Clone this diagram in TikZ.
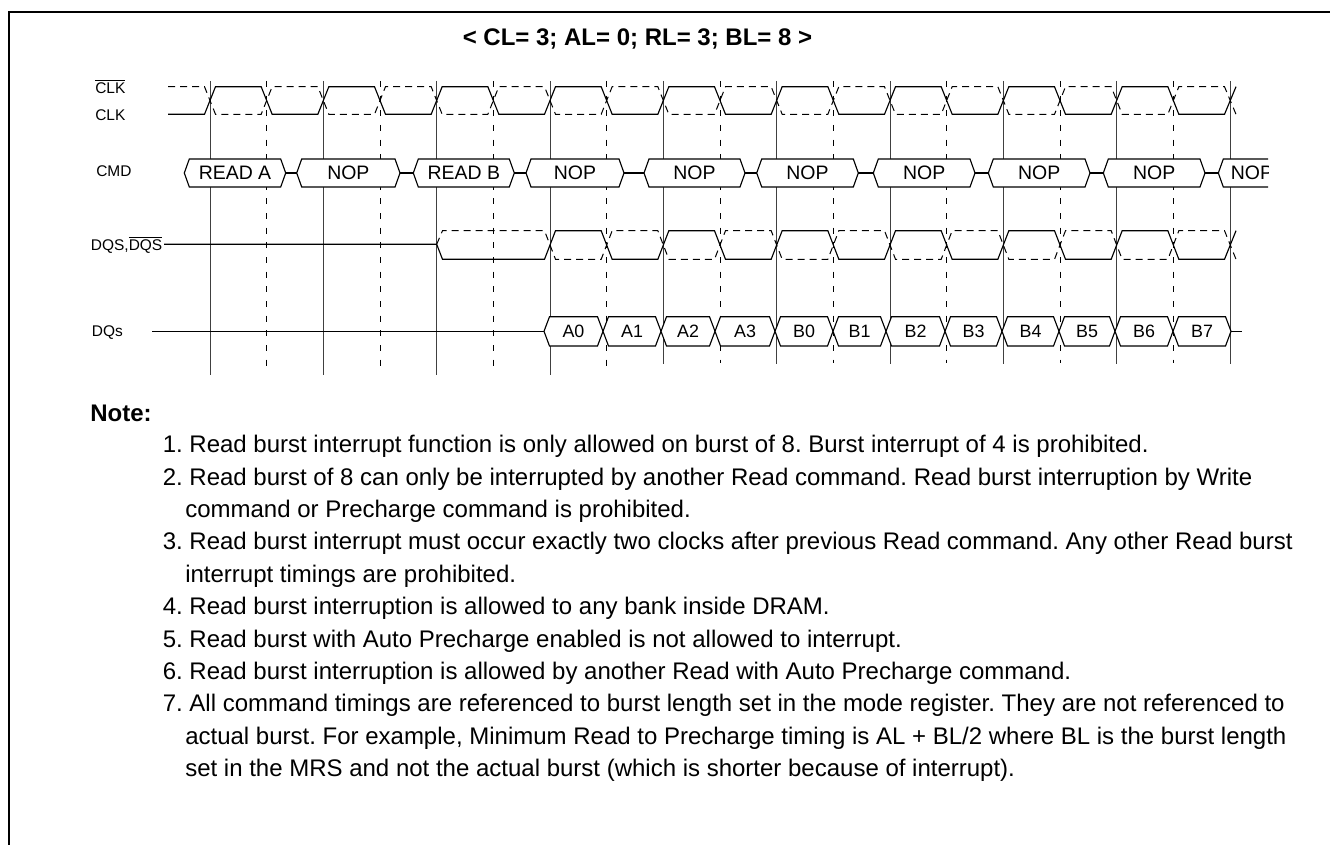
\documentclass[tikz,border=0pt]{standalone}
\usepackage{fontspec}
\setmainfont{Liberation Sans}
\frenchspacing
\tikzset{
  wave/.style={line width=0.85pt, black},
  wavedash/.style={line width=0.75pt, black, dash pattern=on 5.25pt off 3.75pt},
  gridsolid/.style={line width=0.65pt, black!75},
  griddash/.style={line width=0.65pt, black, dash pattern=on 4.5pt off 6.5pt},
  lab/.style={font=\fontsize{11.6}{13}\selectfont, anchor=base west, inner sep=0pt},
  cmdtxt/.style={font=\fontsize{14.6}{16}\selectfont, anchor=base, inner sep=0pt},
  dattxt/.style={font=\fontsize{13.4}{15}\selectfont, anchor=base, inner sep=0pt},
  notetxt/.style={font=\fontsize{18}{22}\selectfont, anchor=base west, inner sep=0pt},
  titletxt/.style={font=\fontsize{18}{22}\selectfont\bfseries, anchor=base, inner sep=0pt},
}
\newcommand\CmdHex[4]{%
  \coordinate (#4-l) at (#1,173);
  \coordinate (#4-r) at (#2,173);
  \draw[wave,fill=white] (#4-l) -- (#1+5,159) -- (#2-5,159) -- (#4-r) -- (#2-5,187) -- (#1+5,187) -- cycle;
  \node[cmdtxt] (#4) at ({(#1+#2)/2},180) {#3};}
\newcommand\DatHex[4]{%
  \coordinate (#4-l) at (#1,331.3);
  \coordinate (#4-r) at (#2,331.3);
  \draw[wave,fill=white] (#4-l) -- (#1+5.5,316.7) -- (#2-5.5,316.7) -- (#4-r) -- (#2-5.5,346) -- (#1+5.5,346) -- cycle;
  \node[dattxt] (#4) at ({(#1+#2)/2},337.8) {#3};}
\begin{document}
\begin{tikzpicture}[x=0.75pt,y=-0.75pt]
\useasboundingbox (0,0) rectangle (1330,845);
% frame
\draw[line width=1pt] (9,850) -- (9,12) -- (1340,12);
% title
\node[titletxt] (title) at (637.5,45.5) {< CL= 3; AL= 0; RL= 3; BL= 8 >};
% grid lines
\foreach \k in {0,...,3}{
  \draw[gridsolid] ({210+113.333*\k},81) -- ({210+113.333*\k},375);
  \draw[griddash] ({266.667+113.333*\k},81) -- ({266.667+113.333*\k},374);
}
\foreach \k in {4,...,9}{
  \draw[gridsolid] ({210+113.333*\k},81) -- ({210+113.333*\k},364);
}
\foreach \k in {4,...,8}{
  \draw[griddash] ({266.667+113.333*\k},81) -- ({266.667+113.333*\k},363);
}
% signal labels
\node[lab] (lclkb) at (95,93.3) {$\overline{\hbox{CLK}}$};
\node[lab] (lclk) at (95,120.7) {CLK};
\node[lab] (lcmd) at (96,176.7) {CMD};
\node[lab] (ldqs) at (90.7,250) {DQS,$\overline{\hbox{DQS}}$};
\node[lab] (ldq) at (91.7,336.7) {DQs};
% clock
\draw[wave] (168,114.3) \foreach \k in {0,...,8}{ -- ({210+113.333*\k-5.5},114.3) -- ({210+113.333*\k+5.5},86.7) -- ({266.667+113.333*\k-5.5},86.7) -- ({266.667+113.333*\k+5.5},114.3) } -- (1224.5,114.3) -- (1236,86.7);
\draw[wavedash] (168,86.7) \foreach \k in {0,...,8}{ -- ({210+113.333*\k-5.5},86.7) -- ({210+113.333*\k+5.5},114.3) -- ({266.667+113.333*\k-5.5},114.3) -- ({266.667+113.333*\k+5.5},86.7) } -- (1224.5,86.7) -- (1236,114.3);
% DQS
\coordinate (dqs0) at (164,244.3);
\coordinate (dqs1) at (436.7,244.3);
\draw[wave] (dqs0) -- (dqs1) -- (442.5,259.3) \foreach \k in {3,...,8}{ -- ({210+113.333*\k-5.5},259.3) -- ({210+113.333*\k+5.5},230.7) -- ({266.667+113.333*\k-5.5},230.7) -- ({266.667+113.333*\k+5.5},259.3) } -- (1224.5,259.3) -- (1236,230.7);
\draw[wavedash] (dqs1) -- (442.5,230.7) \foreach \k in {3,...,8}{ -- ({210+113.333*\k-5.5},230.7) -- ({210+113.333*\k+5.5},259.3) -- ({266.667+113.333*\k-5.5},259.3) -- ({266.667+113.333*\k+5.5},230.7) } -- (1224.5,230.7) -- (1236,259.3);
% CMD boxes
\CmdHex{184.3}{285.7}{READ A}{c0}
\CmdHex{296.7}{400}{NOP}{c1}
\CmdHex{413.3}{514.3}{READ B}{c2}
\CmdHex{526}{624}{NOP}{c3}
\CmdHex{644}{745}{NOP}{c4}
\CmdHex{756.7}{858.3}{NOP}{c5}
\CmdHex{873.3}{975}{NOP}{c6}
\CmdHex{988.3}{1090}{NOP}{c7}
\CmdHex{1103.3}{1205}{NOP}{c8}
\begin{scope}
\clip (1210,150) rectangle (1268,200);
\CmdHex{1218.3}{1285.7}{NOP}{c9}
\end{scope}
\foreach \a/\b in {c0/c1,c1/c2,c2/c3,c3/c4,c4/c5,c5/c6,c6/c7,c7/c8,c8/c9}{
  \draw[wave] (\a-r) -- (\b-l);
}
% DQ data
\DatHex{544}{603}{A0}{d0}
\DatHex{603}{661}{A1}{d1}
\DatHex{661}{715}{A2}{d2}
\DatHex{715}{775}{A3}{d3}
\DatHex{775}{833}{B0}{d4}
\DatHex{833}{886}{B1}{d5}
\DatHex{886}{945}{B2}{d6}
\DatHex{945}{1002}{B3}{d7}
\DatHex{1002}{1059}{B4}{d8}
\DatHex{1059}{1115}{B5}{d9}
\DatHex{1115}{1173}{B6}{d10}
\DatHex{1173}{1231}{B7}{d11}
\coordinate (dq0) at (152,331.3);
\coordinate (dq1) at (1241.7,331.3);
\draw[wave] (dq0) -- (d0-l);
\draw[wave] (d11-r) -- (dq1);
% notes
\node[notetxt,font=\fontsize{18}{22}\selectfont\bfseries] (note) at (90,421.7) {Note:};
\node[notetxt] (n1) at (162.5,452.7) {1. Read burst interrupt function is only allowed on burst of 8. Burst interrupt of 4 is prohibited.};
\node[notetxt] (n2) at (162.5,485.1) {2. Read burst of 8 can only be interrupted by another Read command. Read burst interruption by Write};
\node[notetxt] (n2b) at (185,517.5) {command or Precharge command is prohibited.};
\node[notetxt] (n3) at (162.5,549.9) {3. Read burst interrupt must occur exactly two clocks after previous Read command. Any other Read burst};
\node[notetxt] (n3b) at (185,582.3) {interrupt timings are prohibited.};
\node[notetxt] (n4) at (162.5,614.7) {4. Read burst interruption is allowed to any bank inside DRAM.};
\node[notetxt] (n5) at (162.5,647.1) {5. Read burst with Auto Precharge enabled is not allowed to interrupt.};
\node[notetxt] (n6) at (162.5,679.5) {6. Read burst interruption is allowed by another Read with Auto Precharge command.};
\node[notetxt] (n7) at (162.5,711.9) {7. All command timings are referenced to burst length set in the mode register. They are not referenced to};
\node[notetxt] (n7b) at (185,744.3) {actual burst. For example, Minimum Read to Precharge timing is AL + BL/2 where BL is the burst length};
\node[notetxt] (n7c) at (185,776.7) {set in the MRS and not the actual burst (which is shorter because of interrupt).};
\end{tikzpicture}
\end{document}
